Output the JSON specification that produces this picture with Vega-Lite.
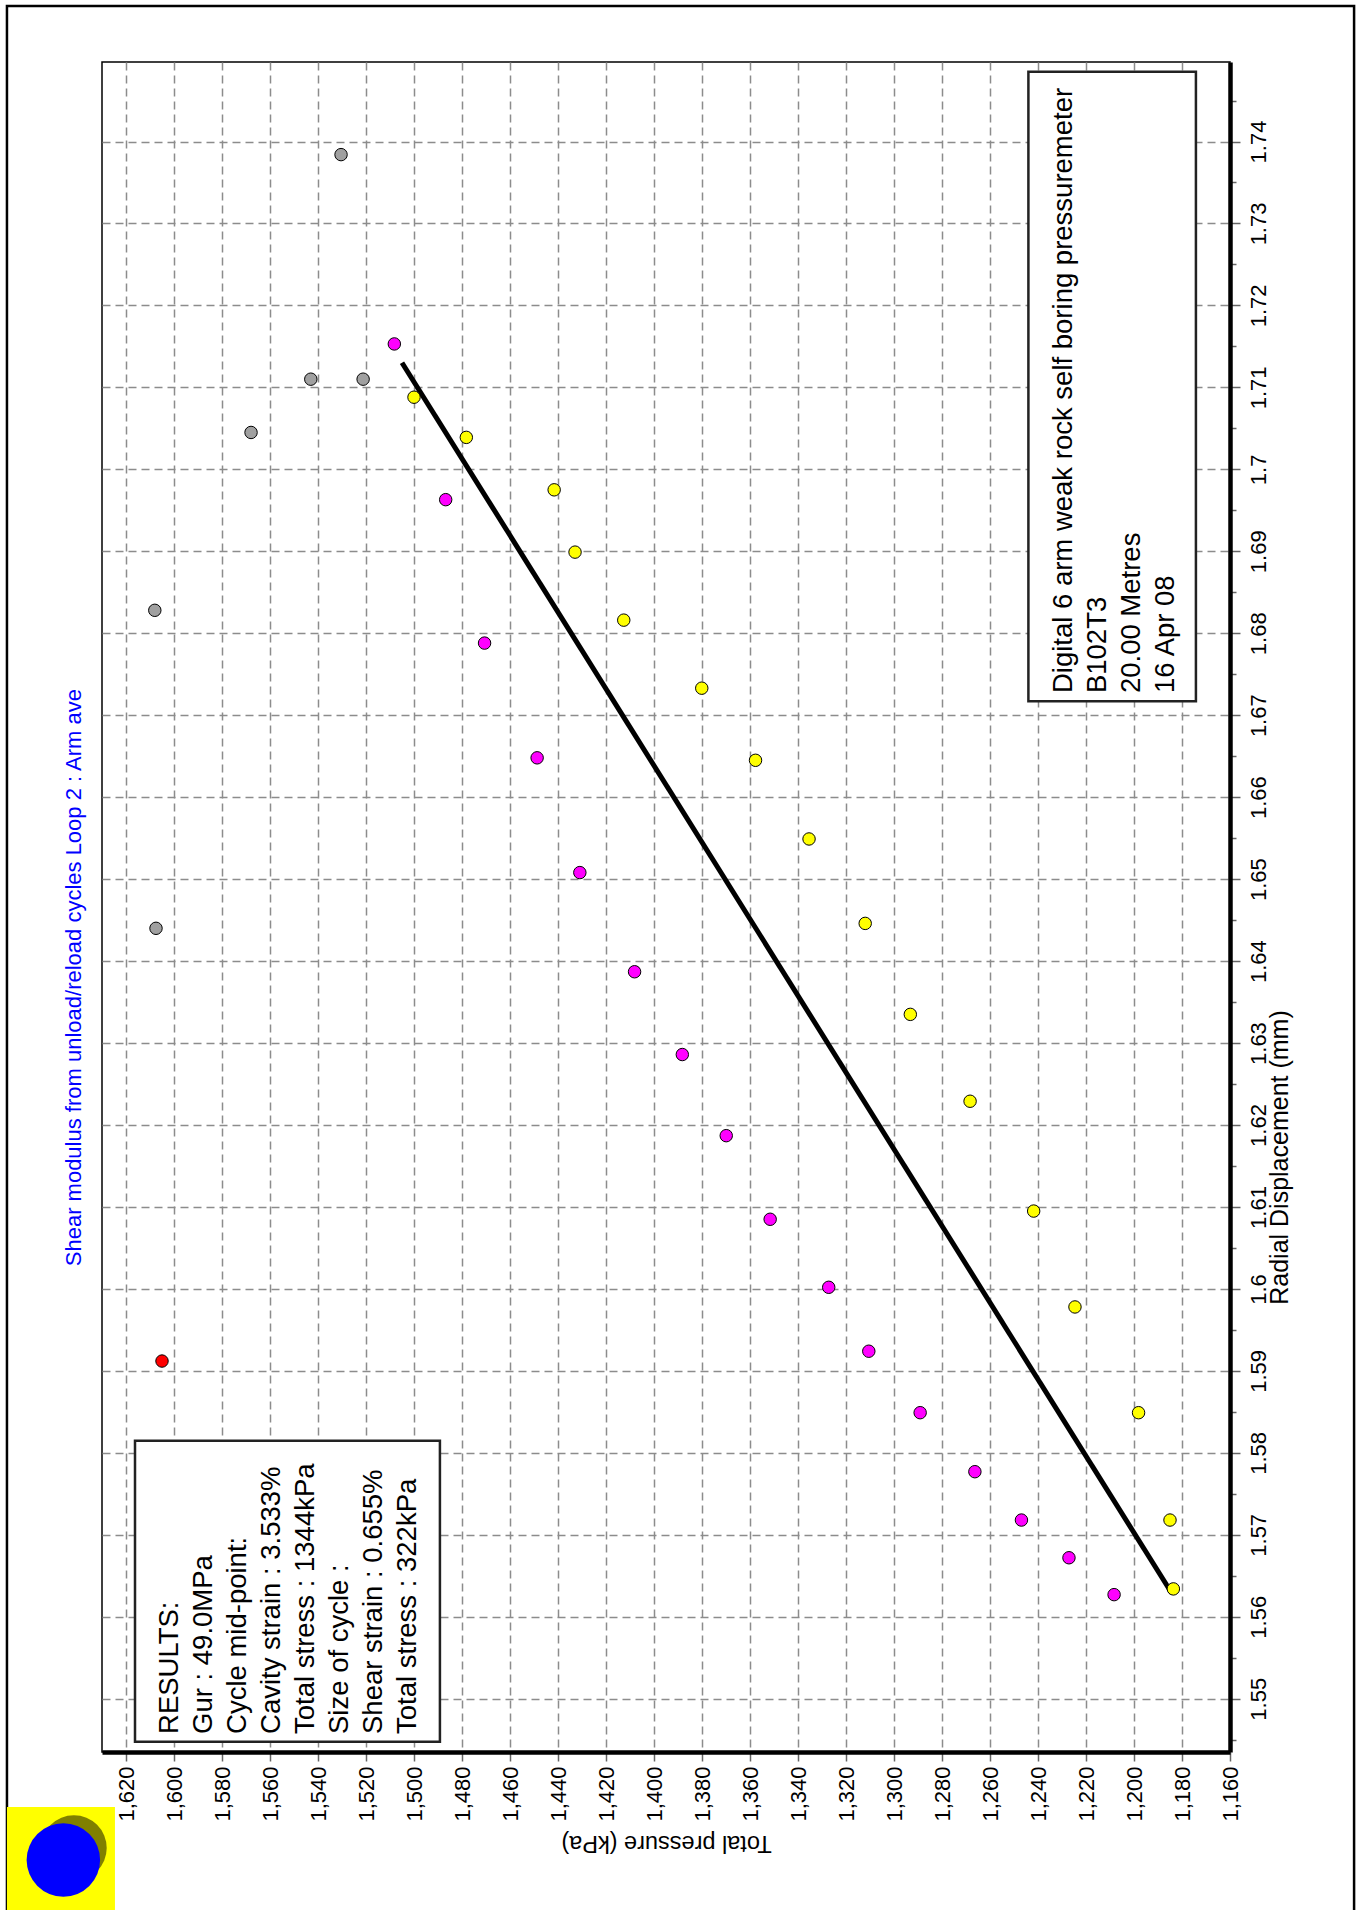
{
  "$schema": "https://vega.github.io/schema/vega-lite/v6.json",
  "autosize": {"type": "none"},
  "padding": {"left": 102, "top": 62, "right": 126, "bottom": 158},
  "width": 1128,
  "height": 1690,
  "background": "white",
  "datasets": {
    "points": [
      {"pressure": 1605.0, "disp": 1.5912, "series": "marker"},
      {"pressure": 1530.4, "disp": 1.7384, "series": "excluded"},
      {"pressure": 1543.0, "disp": 1.7110, "series": "excluded"},
      {"pressure": 1521.2, "disp": 1.7110, "series": "excluded"},
      {"pressure": 1567.9, "disp": 1.7045, "series": "excluded"},
      {"pressure": 1608.0, "disp": 1.6828, "series": "excluded"},
      {"pressure": 1607.5, "disp": 1.6440, "series": "excluded"},
      {"pressure": 1508.2, "disp": 1.7153, "series": "unload"},
      {"pressure": 1486.8, "disp": 1.6963, "series": "unload"},
      {"pressure": 1470.6, "disp": 1.6788, "series": "unload"},
      {"pressure": 1448.7, "disp": 1.6648, "series": "unload"},
      {"pressure": 1430.9, "disp": 1.6508, "series": "unload"},
      {"pressure": 1408.1, "disp": 1.6387, "series": "unload"},
      {"pressure": 1388.2, "disp": 1.6286, "series": "unload"},
      {"pressure": 1369.9, "disp": 1.6187, "series": "unload"},
      {"pressure": 1351.6, "disp": 1.6085, "series": "unload"},
      {"pressure": 1327.2, "disp": 1.6002, "series": "unload"},
      {"pressure": 1310.5, "disp": 1.5924, "series": "unload"},
      {"pressure": 1289.1, "disp": 1.5849, "series": "unload"},
      {"pressure": 1266.3, "disp": 1.5777, "series": "unload"},
      {"pressure": 1246.9, "disp": 1.5718, "series": "unload"},
      {"pressure": 1227.1, "disp": 1.5672, "series": "unload"},
      {"pressure": 1208.3, "disp": 1.5627, "series": "unload"},
      {"pressure": 1183.6, "disp": 1.5634, "series": "reload"},
      {"pressure": 1185.0, "disp": 1.5718, "series": "reload"},
      {"pressure": 1198.1, "disp": 1.5849, "series": "reload"},
      {"pressure": 1224.6, "disp": 1.5978, "series": "reload"},
      {"pressure": 1241.8, "disp": 1.6095, "series": "reload"},
      {"pressure": 1268.3, "disp": 1.6229, "series": "reload"},
      {"pressure": 1293.2, "disp": 1.6335, "series": "reload"},
      {"pressure": 1312.0, "disp": 1.6446, "series": "reload"},
      {"pressure": 1335.4, "disp": 1.6549, "series": "reload"},
      {"pressure": 1357.7, "disp": 1.6645, "series": "reload"},
      {"pressure": 1380.1, "disp": 1.6733, "series": "reload"},
      {"pressure": 1412.6, "disp": 1.6816, "series": "reload"},
      {"pressure": 1432.9, "disp": 1.6899, "series": "reload"},
      {"pressure": 1441.6, "disp": 1.6975, "series": "reload"},
      {"pressure": 1478.2, "disp": 1.7039, "series": "reload"},
      {"pressure": 1500.0, "disp": 1.7088, "series": "reload"}
    ],
    "fit": [
      {"pressure": 1184.3, "disp": 1.5629},
      {"pressure": 1505.0, "disp": 1.7130}
    ],
    "one": [{}]
  },
  "layer": [
    {
      "data": {"name": "one"},
      "mark": {"type": "rect", "fill": null, "filled": false, "stroke": "black", "strokeWidth": 2.5},
      "encoding": {
        "x": {"datum": 1669.6, "type": "quantitative"},
        "x2": {"datum": 1108.3},
        "y": {"datum": 1.75653, "type": "quantitative"},
        "y2": {"datum": 1.52362}
      }
    },
    {
      "data": {"name": "one"},
      "mark": {"type": "rect", "fill": "#FFFF00", "stroke": null},
      "encoding": {
        "x": {"datum": 1669.6, "type": "quantitative"},
        "x2": {"datum": 1624.6},
        "y": {"datum": 1.5368, "type": "quantitative"},
        "y2": {"datum": 1.52399}
      }
    },
    {
      "data": {"name": "one"},
      "mark": {"type": "point", "shape": "circle", "filled": true, "size": 4300, "color": "#808000", "opacity": 1, "strokeWidth": 0},
      "encoding": {
        "x": {"datum": 1641.7, "type": "quantitative"},
        "y": {"datum": 1.53179, "type": "quantitative"}
      }
    },
    {
      "data": {"name": "one"},
      "mark": {"type": "point", "shape": "circle", "filled": true, "size": 5400, "color": "#0000FF", "opacity": 1, "strokeWidth": 0},
      "encoding": {
        "x": {"datum": 1646.1, "type": "quantitative"},
        "y": {"datum": 1.53033, "type": "quantitative"}
      }
    },
    {
      "data": {"name": "one"},
      "mark": {"type": "text", "angle": 270, "align": "center", "baseline": "middle", "font": "Liberation Sans", "fontSize": 22, "color": "#0000FF"},
      "encoding": {
        "x": {"datum": 1641.7, "type": "quantitative"},
        "y": {"datum": 1.63798, "type": "quantitative"},
        "text": {"value": "Shear modulus from unload/reload cycles Loop 2 : Arm ave"}
      }
    },
    {
      "data": {"name": "fit"},
      "mark": {"type": "line", "color": "black", "strokeWidth": 5},
      "encoding": {
        "x": {"field": "pressure", "type": "quantitative"},
        "y": {"field": "disp", "type": "quantitative"}
      }
    },
    {
      "data": {"name": "points"},
      "mark": {"type": "point", "shape": "circle", "filled": true, "size": 155, "stroke": "black", "strokeWidth": 1, "opacity": 1},
      "encoding": {
        "x": {
          "field": "pressure", "type": "quantitative",
          "scale": {"domain": [1160, 1630], "reverse": true, "nice": false, "zero": false},
          "axis": {
            "orient": "bottom",
            "title": "Total pressure (kPa)",
            "values": [1160,1165,1170,1175,1180,1185,1190,1195,1200,1205,1210,1215,1220,1225,1230,1235,1240,1245,1250,1255,1260,1265,1270,1275,1280,1285,1290,1295,1300,1305,1310,1315,1320,1325,1330,1335,1340,1345,1350,1355,1360,1365,1370,1375,1380,1385,1390,1395,1400,1405,1410,1415,1420,1425,1430,1435,1440,1445,1450,1455,1460,1465,1470,1475,1480,1485,1490,1495,1500,1505,1510,1515,1520,1525,1530,1535,1540,1545,1550,1555,1560,1565,1570,1575,1580,1585,1590,1595,1600,1605,1610,1615,1620,1625,1630],
            "labelExpr": "datum.value % 20 == 0 ? format(datum.value, ',') : ''",
            "labelAngle": 270,
            "labelAlign": "right",
            "labelBaseline": "middle",
            "labelFont": "Liberation Sans",
            "labelFontSize": 22,
            "labelColor": "black",
            "labelPadding": 5,
            "labelOverlap": false,
            "labelFlush": false,
            "labelBound": false,
            "tickSize": {"condition": {"test": "datum.value % 20 == 0", "value": 9}, "value": 4},
            "tickColor": "#666666",
            "tickWidth": 1.5,
            "domainColor": "black",
            "domainWidth": 4.5,
            "grid": true,
            "gridColor": "#8c8c8c",
            "gridDash": [8, 5],
            "gridWidth": 1.5,
            "gridOpacity": {"condition": {"test": "datum.value % 20 == 0", "value": 1}, "value": 0},
            "titleAngle": 180,
            "titleAlign": "center",
            "titleBaseline": "middle",
            "titleX": 564,
            "titleY": 90,
            "titleFont": "Liberation Sans",
            "titleFontSize": 23.5,
            "titleFontWeight": "normal",
            "titleColor": "black"
          }
        },
        "y": {
          "field": "disp", "type": "quantitative",
          "scale": {"domain": [1.5435, 1.7497], "nice": false, "zero": false},
          "axis": {
            "orient": "right",
            "title": "Radial Displacement (mm)",
            "values": [1.545,1.5475,1.55,1.5525,1.555,1.5575,1.56,1.5625,1.565,1.5675,1.57,1.5725,1.575,1.5775,1.58,1.5825,1.585,1.5875,1.59,1.5925,1.595,1.5975,1.6,1.6025,1.605,1.6075,1.61,1.6125,1.615,1.6175,1.62,1.6225,1.625,1.6275,1.63,1.6325,1.635,1.6375,1.64,1.6425,1.645,1.6475,1.65,1.6525,1.655,1.6575,1.66,1.6625,1.665,1.6675,1.67,1.6725,1.675,1.6775,1.68,1.6825,1.685,1.6875,1.69,1.6925,1.695,1.6975,1.7,1.7025,1.705,1.7075,1.71,1.7125,1.715,1.7175,1.72,1.7225,1.725,1.7275,1.73,1.7325,1.735,1.7375,1.74,1.7425,1.745,1.7475],
            "labelExpr": "round(datum.value * 10000) % 100 == 0 ? format(datum.value, '~g') : ''",
            "labelAngle": 270,
            "labelAlign": "center",
            "labelBaseline": "top",
            "labelFont": "Liberation Sans",
            "labelFontSize": 22,
            "labelColor": "black",
            "labelPadding": 8,
            "labelOverlap": false,
            "labelFlush": false,
            "labelBound": false,
            "tickSize": {"condition": {"test": "round(datum.value * 10000) % 100 == 0", "value": 10}, "value": 6},
            "tickColor": "#666666",
            "tickWidth": 1.5,
            "domainColor": "black",
            "domainWidth": 4.5,
            "grid": true,
            "gridColor": "#8c8c8c",
            "gridDash": [8, 5],
            "gridWidth": 1.5,
            "gridOpacity": {"condition": {"test": "round(datum.value * 10000) % 100 == 0", "value": 1}, "value": 0},
            "titleAngle": 270,
            "titleAlign": "center",
            "titleBaseline": "middle",
            "titleX": 49,
            "titleY": 1095,
            "titleFont": "Liberation Sans",
            "titleFontSize": 25,
            "titleFontWeight": "normal",
            "titleColor": "black"
          }
        },
        "color": {
          "field": "series", "type": "nominal", "legend": null,
          "scale": {"domain": ["unload", "reload", "excluded", "marker"], "range": ["#FF00FF", "#FFFF00", "#A0A0A0", "#FF0000"]}
        }
      }
    },
    {
      "data": {"name": "one"},
      "mark": {"type": "rect", "fill": "white", "stroke": "#222222", "strokeWidth": 2.5},
      "encoding": {
        "x": {"datum": 1616.25, "type": "quantitative"},
        "x2": {"datum": 1489.2},
        "y": {"datum": 1.58149, "type": "quantitative"},
        "y2": {"datum": 1.54476}
      }
    },
    {
      "data": {"name": "one"},
      "mark": {"type": "rect", "fill": "white", "stroke": "#222222", "strokeWidth": 2.5},
      "encoding": {
        "x": {"datum": 1244.0, "type": "quantitative"},
        "x2": {"datum": 1174.2},
        "y": {"datum": 1.7485, "type": "quantitative"},
        "y2": {"datum": 1.6717}
      }
    },
    {
      "data": {"name": "one"},
      "mark": {"type": "text", "angle": 270, "align": "left", "baseline": "top", "lineHeight": 34, "font": "Liberation Sans", "fontSize": 27.5, "color": "black"},
      "encoding": {
        "x": {"datum": 1607.5, "type": "quantitative"},
        "y": {"datum": 1.5457, "type": "quantitative"},
        "text": {"value": ["RESULTS:", "Gur : 49.0MPa", "Cycle mid-point:", "Cavity strain : 3.533%", "Total stress : 1344kPa", "Size of cycle :", "Shear strain : 0.655%", "Total stress : 322kPa"]}
      }
    },
    {
      "data": {"name": "one"},
      "mark": {"type": "text", "angle": 270, "align": "left", "baseline": "top", "lineHeight": 34, "font": "Liberation Sans", "fontSize": 27.5, "color": "black"},
      "encoding": {
        "x": {"datum": 1235.1, "type": "quantitative"},
        "y": {"datum": 1.6727, "type": "quantitative"},
        "text": {"value": ["Digital 6 arm weak rock self boring pressuremeter", "B102T3", "20.00 Metres", "16 Apr 08"]}
      }
    }
  ],
  "config": {
    "view": {"stroke": "black", "strokeWidth": 1.5},
    "font": "Liberation Sans"
  }
}
